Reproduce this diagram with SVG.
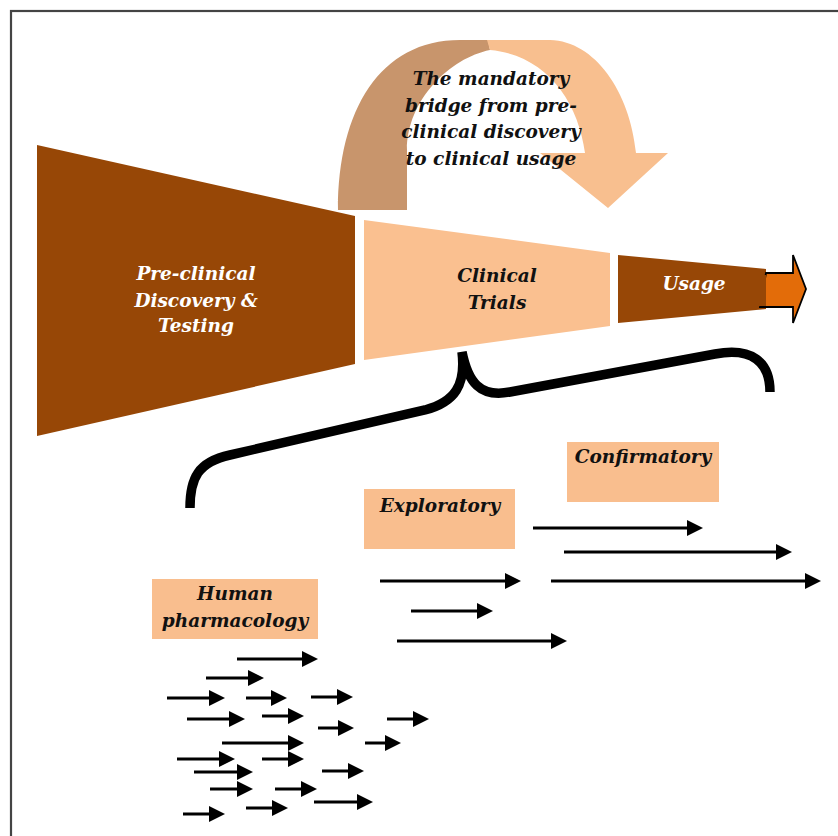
<svg xmlns="http://www.w3.org/2000/svg" width="838" height="836" viewBox="0 0 838 836">
<defs>
<style>
.t{font-family:"DejaVu Serif","Liberation Serif",serif;font-weight:bold;font-style:italic;font-size:18.5px;text-anchor:middle}
.w{fill:#ffffff}
.k{fill:#111111}
.box{fill:#f9be8e}
.arr{stroke:#000;stroke-width:3;fill:none;marker-end:url(#ah)}
</style>
<marker id="ah" markerUnits="userSpaceOnUse" markerWidth="18" markerHeight="18" refX="8" refY="8" orient="auto" viewBox="0 0 18 16">
<path d="M0,0 L16,8 L0,16 Z" fill="#000"/>
</marker>
</defs>
<rect x="11" y="11" width="840" height="840" fill="#fff" stroke="#444" stroke-width="2.2"/>

<g id="bridge">
<path d="M338,210 C338,110 380,40 460,40 L488,40 L490,50 C450,58 407,100 407,150 L407,210 Z" fill="#c8956c"/>
<path d="M487,40 L550,40 C595,41 630,92 636,153 L668,153 L608,208 L540,153 L585,153 C578,100 545,55 490,50 Z" fill="#f8bf8f"/>
<text class="t k" x="491" y="85">The mandatory</text>
<text class="t k" x="491" y="112">bridge from pre-</text>
<text class="t k" x="491" y="138">clinical discovery</text>
<text class="t k" x="491" y="165">to clinical usage</text>
</g>

<g id="preclinical">
<polygon points="37,145 355,216 355,364 37,436" fill="#974706"/>
<text class="t w" x="196" y="280">Pre-clinical</text>
<text class="t w" x="196" y="307">Discovery &amp;</text>
<text class="t w" x="196" y="332">Testing</text>
</g>

<g id="clinical">
<polygon points="364,220 610,253 610,326 364,360" fill="#fac090"/>
<text class="t k" x="497" y="282">Clinical</text>
<text class="t k" x="497" y="309">Trials</text>
</g>

<g id="usage">
<polygon points="618,255 766,269 766,309 618,323" fill="#974706"/>
<polygon points="766,273 793,273 793,255 806,289 793,323 793,307 760,307" fill="#e36c09" stroke="#000" stroke-width="1.8" stroke-linejoin="miter"/>
<rect x="755" y="275" width="11" height="31" fill="#974706"/>
<text class="t w" x="694" y="290">Usage</text>
</g>

<g id="brace">
<path d="M190,508 C190,478 198,462 230,455 L425,410 C455,402 466,385 462,352 C468,382 480,398 510,392 L715,354 C752,347 770,362 770,392" fill="none" stroke="#000" stroke-width="9.5"/>
</g>

<g id="confirmatory">
<rect class="box" x="567" y="442" width="152" height="60"/>
<text class="t k" x="643" y="463">Confirmatory</text>
</g>
<g id="exploratory">
<rect class="box" x="364" y="489" width="151" height="60"/>
<text class="t k" x="440" y="512">Exploratory</text>
</g>
<g id="human">
<rect class="box" x="152" y="579" width="166" height="60"/>
<text class="t k" x="235" y="600">Human</text>
<text class="t k" x="235" y="627">pharmacology</text>
</g>

<g id="connectors">
<path class="arr" d="M533,528 H695"/>
<path class="arr" d="M564,552 H784"/>
<path class="arr" d="M380,581 H513"/>
<path class="arr" d="M551,581 H813"/>
<path class="arr" d="M411,611 H485"/>
<path class="arr" d="M397,641 H559"/>
<path class="arr" d="M237,659 H310"/>
<path class="arr" d="M206,678 H256"/>
<path class="arr" d="M167,698 H217"/>
<path class="arr" d="M246,698 H279"/>
<path class="arr" d="M311,697 H345"/>
<path class="arr" d="M187,719 H237"/>
<path class="arr" d="M262,716 H296"/>
<path class="arr" d="M387,719 H421"/>
<path class="arr" d="M318,728 H346"/>
<path class="arr" d="M222,743 H296"/>
<path class="arr" d="M365,743 H393"/>
<path class="arr" d="M177,759 H227"/>
<path class="arr" d="M262,759 H296"/>
<path class="arr" d="M194,772 H245"/>
<path class="arr" d="M322,771 H356"/>
<path class="arr" d="M210,789 H245"/>
<path class="arr" d="M275,789 H309"/>
<path class="arr" d="M314,802 H365"/>
<path class="arr" d="M183,814 H217"/>
<path class="arr" d="M246,808 H280"/>
</g>
</svg>
